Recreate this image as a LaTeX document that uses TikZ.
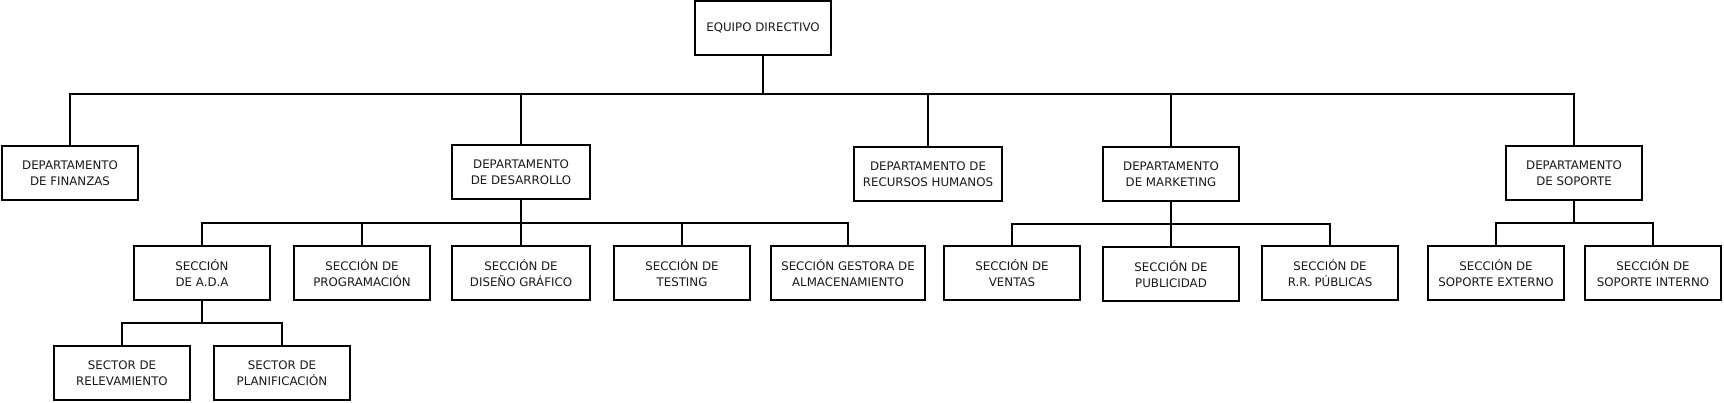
\documentclass[tikz,border=0pt]{standalone}
\usepackage{fontspec}
\setmainfont{DejaVu Sans}
\begin{document}
\begin{tikzpicture}[x=1pt,y=-1pt,
  orgbox/.style={draw=black,line width=2.5pt,fill=white,inner sep=0pt,outer sep=0pt,
    minimum height=54pt,minimum width=136pt,align=center,text=black!90,
    font=\fontsize{11.8}{16}\selectfont},
  link/.style={draw=black,line width=2.5pt}]
\useasboundingbox (0,0) rectangle (1724,402);
% level 0
\node[orgbox] (eq) at (763,28) {EQUIPO DIRECTIVO};
% level 1
\node[orgbox] (fin) at (70,173) {DEPARTAMENTO\\DE FINANZAS};
\node[orgbox,minimum width=138pt] (des) at (521,172) {DEPARTAMENTO\\DE DESARROLLO};
\node[orgbox,minimum width=148pt] (rrhh) at (928,174) {DEPARTAMENTO DE\\RECURSOS HUMANOS};
\node[orgbox] (mkt) at (1171,174) {DEPARTAMENTO\\DE MARKETING};
\node[orgbox] (sop) at (1574,173) {DEPARTAMENTO\\DE SOPORTE};
% level 2
\node[orgbox] (ada) at (202,273) {SECCIÓN\\DE A.D.A};
\node[orgbox] (prog) at (362,273) {SECCIÓN DE\\PROGRAMACIÓN};
\node[orgbox,minimum width=138pt] (dis) at (521,273) {SECCIÓN DE\\DISEÑO GRÁFICO};
\node[orgbox] (test) at (682,273) {SECCIÓN DE\\TESTING};
\node[orgbox,minimum width=154pt] (alm) at (848,273) {SECCIÓN GESTORA DE\\ALMACENAMIENTO};
\node[orgbox] (ven) at (1012,273) {SECCIÓN DE\\VENTAS};
\node[orgbox] (pub) at (1171,274) {SECCIÓN DE\\PUBLICIDAD};
\node[orgbox] (rrp) at (1330,273) {SECCIÓN DE\\R.R. PÚBLICAS};
\node[orgbox] (sext) at (1496,273) {SECCIÓN DE\\SOPORTE EXTERNO};
\node[orgbox] (sint) at (1653,273) {SECCIÓN DE\\SOPORTE INTERNO};
% level 3
\node[orgbox] (rel) at (122,373) {SECTOR DE\\RELEVAMIENTO};
\node[orgbox] (pla) at (282,373) {SECTOR DE\\PLANIFICACIÓN};
% bus coordinates
\coordinate (eqb) at (763,94);
\coordinate (desb) at (521,223);
\coordinate (mktb) at (1171,224);
\coordinate (sopb) at (1574,223);
\coordinate (adab) at (202,323);
% connectors
\draw[link] (eq.south) -- (eqb);
\draw[link] (eqb) -| (fin.north);
\draw[link] (eqb) -| (des.north);
\draw[link] (eqb) -| (rrhh.north);
\draw[link] (eqb) -| (mkt.north);
\draw[link] (eqb) -| (sop.north);
\draw[link] (des.south) -- (desb);
\draw[link] (desb) -| (ada.north);
\draw[link] (desb) -| (prog.north);
\draw[link] (desb) -- (dis.north);
\draw[link] (desb) -| (test.north);
\draw[link] (desb) -| (alm.north);
\draw[link] (mkt.south) -- (mktb);
\draw[link] (mktb) -| (ven.north);
\draw[link] (mktb) -- (pub.north);
\draw[link] (mktb) -| (rrp.north);
\draw[link] (sop.south) -- (sopb);
\draw[link] (sopb) -| (sext.north);
\draw[link] (sopb) -| (sint.north);
\draw[link] (ada.south) -- (adab);
\draw[link] (adab) -| (rel.north);
\draw[link] (adab) -| (pla.north);
\end{tikzpicture}
\end{document}
